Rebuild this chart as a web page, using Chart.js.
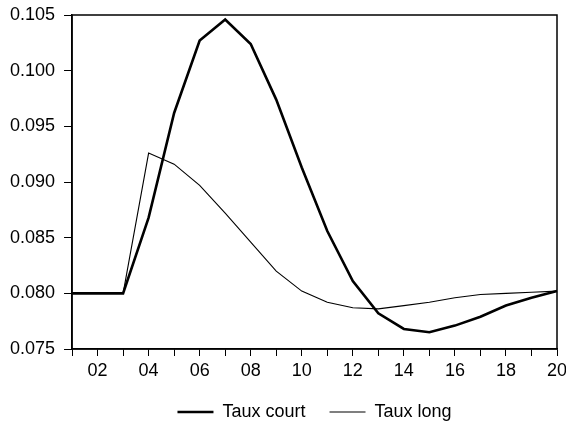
<!DOCTYPE html>
<html>
<head>
<meta charset="utf-8">
<script src="https://cdn.jsdelivr.net/npm/chart.js@4"></script>
<style>
  html, body { margin: 0; padding: 0; background: #fff; }
  #wrap { width: 566px; height: 425px; }
</style>
</head>
<body>
<div id="wrap"><canvas id="chart" width="566" height="425"></canvas></div>
<script>
"use strict";

var years = ['01', '02', '03', '04', '05', '06', '07', '08', '09', '10',
             '11', '12', '13', '14', '15', '16', '17', '18', '19', '20'];
var taux_court = [0.0800, 0.0800, 0.0800, 0.0868, 0.0962, 0.1027, 0.1046, 0.1024, 0.0974, 0.0913,
                  0.0856, 0.0811, 0.0782, 0.0768, 0.0765, 0.0771, 0.0779, 0.0789, 0.0796, 0.0802];
var taux_long = [0.0800, 0.0800, 0.0800, 0.0926, 0.0916, 0.0897, 0.0872, 0.0846, 0.0820, 0.0802,
                 0.0792, 0.0787, 0.0786, 0.0789, 0.0792, 0.0796, 0.0799, 0.0800, 0.0801, 0.0802];
var y_ticks = [0.075, 0.080, 0.085, 0.090, 0.095, 0.100, 0.105];

var font_family = '"Liberation Sans", Arial, sans-serif';

// Box around the plot area (top and right sides have no axis).
var frame_plugin = {
  id: 'frame',
  afterDraw: function (chart) {
    var a = chart.chartArea, ctx = chart.ctx;
    ctx.save();
    ctx.strokeStyle = '#000';
    ctx.lineWidth = 1.5;
    ctx.strokeRect(a.left, a.top, a.right - a.left, a.bottom - a.top);
    ctx.restore();
  }
};

new Chart(document.getElementById('chart').getContext('2d'), {
  type: 'line',
  data: {
    labels: years,
    datasets: [{
      label: 'Taux court',
      data: taux_court,
      borderColor: '#000',
      borderWidth: 2.6,
      pointRadius: 0,
      tension: 0,
      fill: false
    }, {
      label: 'Taux long',
      data: taux_long,
      borderColor: '#000',
      borderWidth: 1.1,
      pointRadius: 0,
      tension: 0,
      fill: false
    }]
  },
  plugins: [frame_plugin],
  options: {
    responsive: false,
    animation: false,
    layout: {
      padding: { top: 0, right: 0, left: 1, bottom: -6 }
    },
    plugins: {
      tooltip: { enabled: false },
      legend: {
        position: 'bottom',
        fullSize: false,
        labels: {
          color: '#000',
          font: { family: font_family, size: 18 },
          usePointStyle: true,
          pointStyle: 'line',
          pointStyleWidth: 36,
          padding: 24
        }
      }
    },
    scales: {
      x: {
        type: 'category',
        offset: false,
        border: { display: true, color: '#000', width: 1.5 },
        grid: { drawOnChartArea: false, drawTicks: true, tickLength: 7, color: '#000' },
        afterFit: function (axis) {
          axis.height = 30;
          axis.paddingRight = 9;
        },
        ticks: {
          color: '#000',
          autoSkip: false,
          maxRotation: 0,
          padding: 4,
          font: { family: font_family, size: 18 },
          callback: function (value, index) {
            return index % 2 === 1 ? years[index] : '';
          }
        }
      },
      y: {
        min: y_ticks[0],
        max: y_ticks[y_ticks.length - 1],
        border: { display: true, color: '#000', width: 1.5 },
        grid: { drawOnChartArea: false, drawTicks: true, tickLength: 8, color: '#000' },
        afterBuildTicks: function (axis) {
          axis.ticks = y_ticks.map(function (v) { return { value: v }; });
        },
        afterFit: function (axis) {
          axis.paddingTop = 15;
        },
        ticks: {
          color: '#000',
          padding: 9,
          font: { family: font_family, size: 18 },
          callback: function (value) {
            return Number(value).toFixed(3);
          }
        }
      }
    }
  }
});
</script>
</body>
</html>
